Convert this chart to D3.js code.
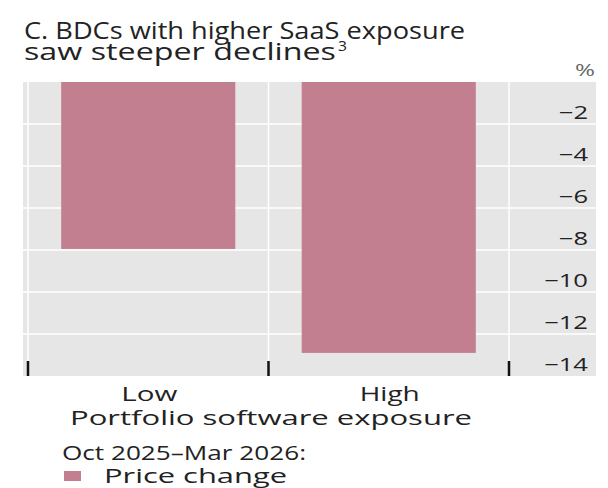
<!DOCTYPE html>
<html>
<head>
<meta charset="utf-8">
<script src="https://cdn.jsdelivr.net/npm/d3@7"></script>
<style>
  body { margin: 0; background: #fff; }
  svg text { font-family: 'Open Sans', 'Noto Sans', sans-serif; fill: #222; }
</style>
</head>
<body>
<svg width="608" height="488"></svg>
<script>
  const categories = ['Low', 'High'];
  const priceChange = [-7.95, -12.9];
  const yTicks = [-2, -4, -6, -8, -10, -12, -14];
  const titleLines = ['C. BDCs with higher SaaS exposure', 'saw steeper declines'];
  const xAxisLabelText = 'Portfolio software exposure';
  const legendTitle = 'Oct 2025\u2013Mar 2026:';
  const legendLabel = 'Price change';

  const svg = d3.select('svg');
  const barColor = '#c27f8f';

  const plot = { left: 23, right: 596, top: 82, bottom: 376 };
  const bandLeft = 28, bandRight = 509;

  // the source glyphs are wider than Open Sans, so stretch text to the widths seen
  const fitWidth = (sel, w) => sel
    .attr('textLength', w)
    .attr('lengthAdjust', 'spacingAndGlyphs');
  const stretch = (sel, k) => sel.each(function () {
    const n = this.getComputedTextLength();
    d3.select(this).attr('textLength', n * k).attr('lengthAdjust', 'spacingAndGlyphs');
  });

  const xScale = d3.scaleBand()
    .domain(categories)
    .range([bandLeft, bandRight])
    .paddingInner(0.276)
    .paddingOuter(0.138);

  const yScale = d3.scaleLinear()
    .domain([0, -14])
    .range([plot.top, plot.bottom]);

  // background
  svg.append('rect')
    .attr('x', plot.left)
    .attr('y', plot.top)
    .attr('width', plot.right - plot.left)
    .attr('height', plot.bottom - plot.top)
    .attr('fill', '#e6e6e6');

  // horizontal grid
  svg.append('g').selectAll('line').data(yTicks.slice(0, -1))
    .enter().append('line')
      .attr('x1', plot.left)
      .attr('x2', plot.right)
      .attr('y1', d => yScale(d))
      .attr('y2', d => yScale(d))
      .attr('stroke', '#fff')
      .attr('stroke-width', 1.5);

  // vertical grid at band edges
  const step = xScale.step();
  const edges = [bandLeft, bandLeft + step, bandRight];
  svg.append('g').selectAll('line').data(edges)
    .enter().append('line')
      .attr('x1', d => d)
      .attr('x2', d => d)
      .attr('y1', plot.top)
      .attr('y2', plot.bottom)
      .attr('stroke', '#fff')
      .attr('stroke-width', 1.5);

  // bars
  svg.append('g').selectAll('rect').data(categories)
    .enter().append('rect')
      .attr('x', d => xScale(d))
      .attr('y', yScale(0))
      .attr('width', xScale.bandwidth())
      .attr('height', (d, i) => yScale(priceChange[i]) - yScale(0))
      .attr('fill', barColor);

  // x ticks
  svg.append('g').selectAll('line').data(edges)
    .enter().append('line')
      .attr('x1', d => d)
      .attr('x2', d => d)
      .attr('y1', plot.bottom - 15)
      .attr('y2', plot.bottom)
      .attr('stroke', '#111')
      .attr('stroke-width', 2.5);

  // y axis labels (sit above their gridline)
  const yAxis = d3.axisRight(yScale)
    .tickValues(yTicks)
    .tickSize(0)
    .tickFormat(d => d3.format('d')(d).replace('-', '\u2212'));
  const yAxisG = svg.append('g')
    .attr('transform', `translate(588,0)`)
    .call(yAxis);
  yAxisG.select('.domain').remove();
  yAxisG.selectAll('text')
    .attr('x', 0)
    .attr('dy', '-0.3em')
    .style('text-anchor', 'end')
    .style('font-size', '18px')
    .style('font-family', null)
    .attr('fill', '#222')
    .call(stretch, 1.42);

  svg.append('text')
    .attr('x', 595)
    .attr('y', 76)
    .attr('text-anchor', 'end')
    .style('font-size', '17px')
    .style('fill', '#666')
    .text('%')
    .call(fitWidth, 20);

  // category labels
  const catWidths = [56, 60];
  svg.append('g').selectAll('text').data(categories)
    .enter().append('text')
      .attr('x', d => xScale(d) + xScale.bandwidth() / 2 + 1)
      .attr('y', 401)
      .attr('text-anchor', 'middle')
      .style('font-size', '20px')
      .text(d => d)
      .attr('textLength', (d, i) => catWidths[i])
      .attr('lengthAdjust', 'spacingAndGlyphs');

  svg.append('text')
    .attr('x', 271)
    .attr('y', 425)
    .attr('text-anchor', 'middle')
    .style('font-size', '20px')
    .text(xAxisLabelText)
    .call(fitWidth, 402);

  // title
  svg.append('text')
    .attr('x', 24)
    .attr('y', 39)
    .style('font-size', '24px')
    .text(titleLines[0])
    .call(fitWidth, 441);
  svg.append('text')
    .attr('x', 24)
    .attr('y', 60)
    .style('font-size', '24px')
    .text(titleLines[1])
    .call(fitWidth, 312);
  svg.append('text')
    .attr('x', 338)
    .attr('y', 51)
    .style('font-size', '14px')
    .text('3')
    .call(fitWidth, 9);

  // legend
  svg.append('text')
    .attr('x', 62)
    .attr('y', 460)
    .style('font-size', '20px')
    .text(legendTitle)
    .call(fitWidth, 244);
  svg.append('rect')
    .attr('x', 64)
    .attr('y', 471)
    .attr('width', 17)
    .attr('height', 10)
    .attr('fill', barColor);
  svg.append('text')
    .attr('x', 104)
    .attr('y', 483)
    .style('font-size', '20px')
    .text(legendLabel)
    .call(fitWidth, 183);
</script>
</body>
</html>
